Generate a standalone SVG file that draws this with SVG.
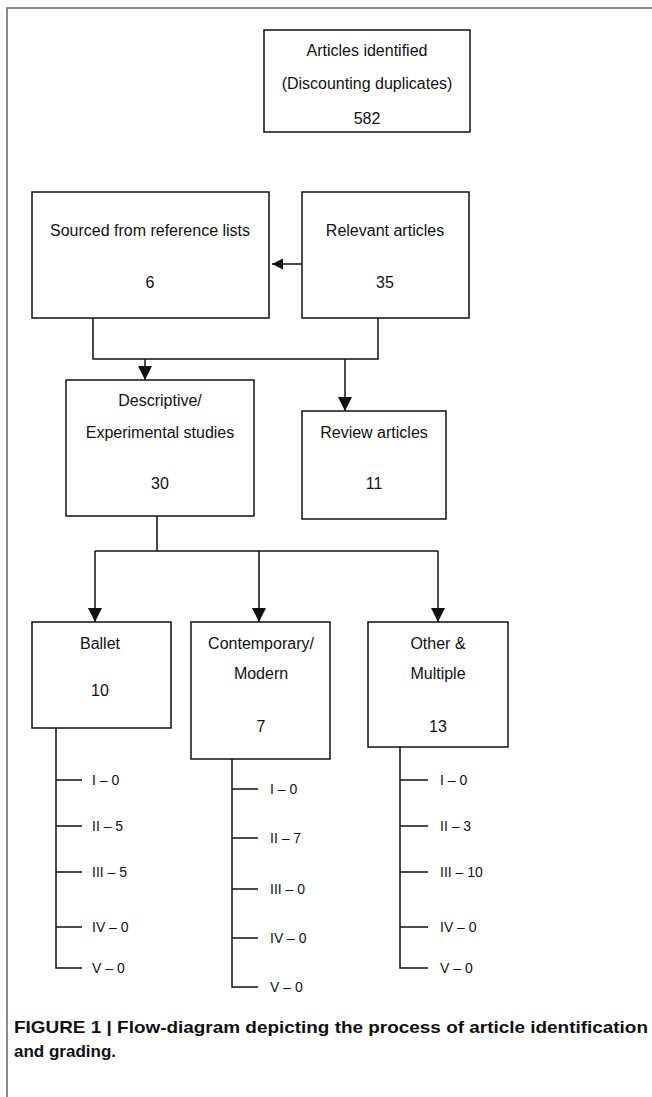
<svg xmlns="http://www.w3.org/2000/svg" width="652" height="1097" viewBox="0 0 652 1097">
<style>
.box{fill:#fff;stroke:#111;stroke-width:1.5}
.ln{fill:none;stroke:#111;stroke-width:1.5}
.t{font-family:"Liberation Sans",Arial,sans-serif;font-size:16px;fill:#111;text-anchor:middle}
.g{font-family:"Liberation Sans",Arial,sans-serif;font-size:14px;fill:#111}
.cap{font-family:"Liberation Sans",Arial,sans-serif;font-size:17px;font-weight:bold;fill:#111}
</style>
<defs>
<marker id="ah" viewBox="0 0 10 10" refX="10" refY="5" markerWidth="11" markerHeight="11" markerUnits="userSpaceOnUse" orient="auto">
<path d="M0,0 L10,5 L0,10 z" fill="#111"/>
</marker>
<marker id="ahb" viewBox="0 0 10 10" refX="10" refY="5" markerWidth="14" markerHeight="14" markerUnits="userSpaceOnUse" orient="auto">
<path d="M0,0 L10,5 L0,10 z" fill="#111"/>
</marker>
</defs>
<rect x="0" y="0" width="652" height="1097" fill="#fff"/>
<path d="M652,8 H7 V1097" fill="none" stroke="#666" stroke-width="1.5"/>

<g id="connectors">
<line class="ln" x1="302" y1="264" x2="272" y2="264" marker-end="url(#ah)"/>
<path class="ln" d="M93,318 V359 H378 V318"/>
<line class="ln" x1="145" y1="359" x2="145" y2="380" marker-end="url(#ahb)"/>
<line class="ln" x1="345" y1="359" x2="345" y2="411" marker-end="url(#ahb)"/>
<path class="ln" d="M157,516 V551"/>
<path class="ln" d="M95,551 H438"/>
<line class="ln" x1="95" y1="551" x2="95" y2="622" marker-end="url(#ahb)"/>
<line class="ln" x1="259" y1="551" x2="259" y2="622" marker-end="url(#ahb)"/>
<line class="ln" x1="438" y1="551" x2="438" y2="622" marker-end="url(#ahb)"/>
<path class="ln" d="M56,728 V968 H82 M56,780 H82 M56,826 H82 M56,872 H82 M56,927 H82"/>
<path class="ln" d="M232,759 V987 H258 M232,789 H258 M232,838 H258 M232,889 H258 M232,938 H258"/>
<path class="ln" d="M400,747 V968 H428 M400,780 H428 M400,826 H428 M400,872 H428 M400,927 H428"/>
</g>

<g id="n-identified">
<rect class="box" x="264" y="30" width="206" height="102"/>
<text class="t" x="367" y="56">Articles identified</text>
<text class="t" x="367" y="89">(Discounting duplicates)</text>
<text class="t" x="367" y="124">582</text>
</g>
<g id="n-sourced">
<rect class="box" x="32" y="192" width="237" height="126"/>
<text class="t" x="150" y="236">Sourced from reference lists</text>
<text class="t" x="150" y="288">6</text>
</g>
<g id="n-relevant">
<rect class="box" x="302" y="192" width="167" height="126"/>
<text class="t" x="385" y="236">Relevant articles</text>
<text class="t" x="385" y="288">35</text>
</g>
<g id="n-descriptive">
<rect class="box" x="66" y="380" width="188" height="136"/>
<text class="t" x="160" y="406">Descriptive/</text>
<text class="t" x="160" y="438">Experimental studies</text>
<text class="t" x="160" y="489">30</text>
</g>
<g id="n-review">
<rect class="box" x="302" y="411" width="144" height="108"/>
<text class="t" x="374" y="438">Review articles</text>
<text class="t" x="374" y="489">11</text>
</g>
<g id="n-ballet">
<rect class="box" x="32" y="622" width="139" height="106"/>
<text class="t" x="100" y="649">Ballet</text>
<text class="t" x="100" y="696">10</text>
</g>
<g id="n-contemporary">
<rect class="box" x="191" y="622" width="139" height="137"/>
<text class="t" x="261" y="649">Contemporary/</text>
<text class="t" x="261" y="679">Modern</text>
<text class="t" x="261" y="732">7</text>
</g>
<g id="n-other">
<rect class="box" x="368" y="622" width="140" height="125"/>
<text class="t" x="438" y="649">Other &amp;</text>
<text class="t" x="438" y="679">Multiple</text>
<text class="t" x="438" y="732">13</text>
</g>

<g id="grades-ballet">
<text class="g" x="92" y="785">I – 0</text>
<text class="g" x="92" y="831">II – 5</text>
<text class="g" x="92" y="877">III – 5</text>
<text class="g" x="92" y="932">IV – 0</text>
<text class="g" x="92" y="973">V – 0</text>
</g>
<g id="grades-contemporary">
<text class="g" x="270" y="794">I – 0</text>
<text class="g" x="270" y="843">II – 7</text>
<text class="g" x="270" y="894">III – 0</text>
<text class="g" x="270" y="943">IV – 0</text>
<text class="g" x="270" y="992">V – 0</text>
</g>
<g id="grades-other">
<text class="g" x="440" y="785">I – 0</text>
<text class="g" x="440" y="831">II – 3</text>
<text class="g" x="440" y="877">III – 10</text>
<text class="g" x="440" y="932">IV – 0</text>
<text class="g" x="440" y="973">V – 0</text>
</g>

<text class="cap" x="14" y="1033" textLength="634" lengthAdjust="spacingAndGlyphs">FIGURE 1 | Flow-diagram depicting the process of article identification</text>
<text class="cap" x="14" y="1057">and grading.</text>
</svg>
